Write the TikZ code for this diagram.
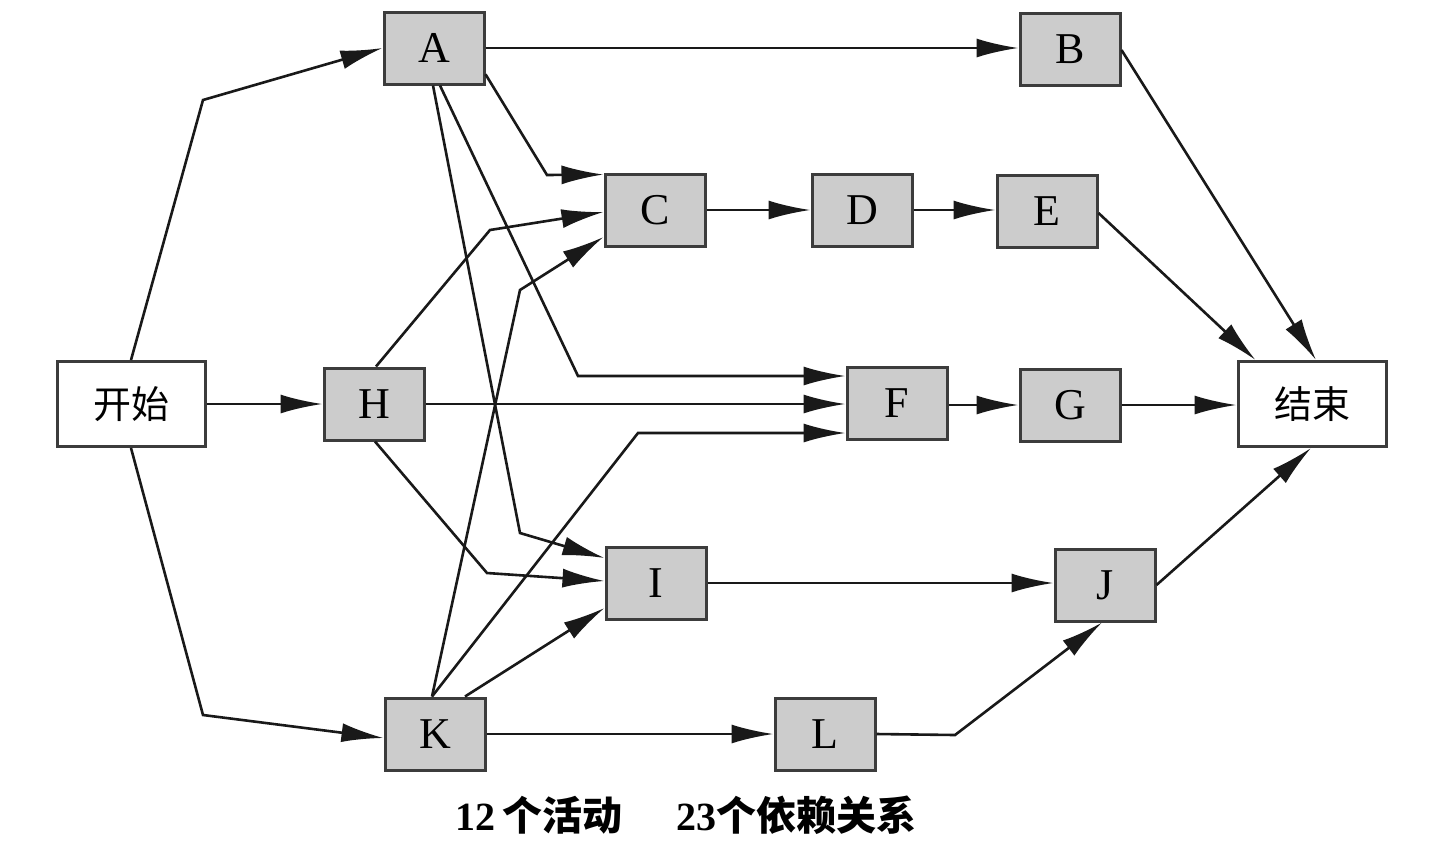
\documentclass[tikz,border=0pt]{standalone}
\usepackage{fontspec}
\setmainfont{Liberation Serif}
\newfontfamily\cjk{Noto Sans CJK SC}
\usetikzlibrary{arrows.meta}
\definecolor{boxfill}{RGB}{204,204,204}
\definecolor{boxline}{RGB}{60,60,60}
\definecolor{lin}{RGB}{25,25,25}
\tikzset{
  act/.style={draw=boxline,fill=boxfill,line width=1.5pt,minimum width=50pt,minimum height=36pt,inner sep=0pt,font=\fontsize{22}{26}\selectfont},
  term/.style={draw=boxline,fill=white,line width=1.5pt,minimum width=74pt,minimum height=42.5pt,inner sep=0pt,font=\cjk\fontsize{19}{22}\selectfont},
  arr/.style={draw=lin,line width=1.3pt,-{Latex[length=21pt,width=9.5pt]}},
  captext/.style={anchor=west,inner sep=0pt,font=\fontsize{20}{24}\selectfont}
}
\begin{document}
\begin{tikzpicture}[x=0.5pt,y=-0.5pt]
\useasboundingbox[fill=white] (0,0) rectangle (1440,842);
% nodes
\node[term] (start) at (131,404) {开始};
\node[term] (end) at (1312,404) {结束};
\node[act] (A) at (434,48) {A};
\node[act] (B) at (1070,49) {B};
\node[act] (C) at (655,210) {C};
\node[act] (D) at (862,210) {D};
\node[act] (E) at (1047,211) {E};
\node[act] (H) at (374,404) {H};
\node[act] (F) at (897,403) {F};
\node[act] (G) at (1070,405) {G};
\node[act] (I) at (656,583) {I};
\node[act] (J) at (1105,585) {J};
\node[act] (K) at (435,734) {K};
\node[act] (L) at (825,734) {L};
% bend points
\coordinate (bSA) at (203,100);
\coordinate (bSK) at (203,715);
\coordinate (bAC) at (547,175);
\coordinate (bAF) at (578,376);
\coordinate (bAI) at (520,533);
\coordinate (bHC) at (490,230);
\coordinate (bHI) at (487,573);
\coordinate (bKC) at (520,290);
\coordinate (bKF) at (638,433);
\coordinate (bLJ) at (955,735);
% connectors
\draw[arr] (start.north) -- (bSA) -- (A.west);
\draw[arr] (start.east) -- (start.east -| H.west);
\draw[arr] (start.south) -- (bSK) -- ([yshift=-2pt]K.west);
\draw[arr] (A.east) -- (A.east -| B.west);
\draw[arr] (A.-27) -- (bAC) -- ([yshift=-1pt]C.north west);
\draw[arr] ([xshift=3pt]A.south) -- (bAF) -- ([yshift=13.5pt]F.west);
\draw[arr] ([xshift=-0.5pt]A.south) -- (bAI) -- ([yshift=12.5pt]I.west);
\draw[arr] ([xshift=1pt]H.north) -- (bHC) -- ([yshift=-1pt]C.west);
\draw[arr] (H.east) -- (H.east -| F.west);
\draw[arr] ([xshift=0.5pt]H.south) -- (bHI) -- ([yshift=1pt]I.west);
\draw[arr] ([xshift=-1.5pt]K.north) -- (bKC) -- ([yshift=-13.5pt]C.west);
\draw[arr] ([xshift=-1.5pt]K.north) -- (bKF) -- ([yshift=-15pt]F.west);
\draw[arr] ([xshift=15pt]K.north) -- ([yshift=-12.5pt]I.west);
\draw[arr] (K.east) -- (K.east -| L.west);
\draw[arr] (C.east) -- (C.east -| D.west);
\draw[arr] (D.east) -- (D.east -| E.west);
\draw[arr] ([yshift=-1pt]E.east) -- ([xshift=9.5pt]end.north west);
\draw[arr] ([yshift=-0.5pt]B.east) -- ([xshift=2pt]end.north);
\draw[arr] (G.west -| F.east) -- (G.west);
\draw[arr] (G.east) -- (G.east -| end.west);
\draw[arr] (I.east) -- (I.east -| J.west);
\draw[arr] (J.east) -- ([xshift=-0.5pt]end.south);
\draw[arr] (L.east) -- (bLJ) -- ([xshift=-1.5pt]J.south);
% caption
\node[captext] (cap1) at (455,815) {\textbf{12}\,{\cjk\bfseries 个活动}};
\node[captext] (cap2) at (676,815) {\textbf{23}{\cjk\bfseries 个依赖关系}};
\end{tikzpicture}
\end{document}
